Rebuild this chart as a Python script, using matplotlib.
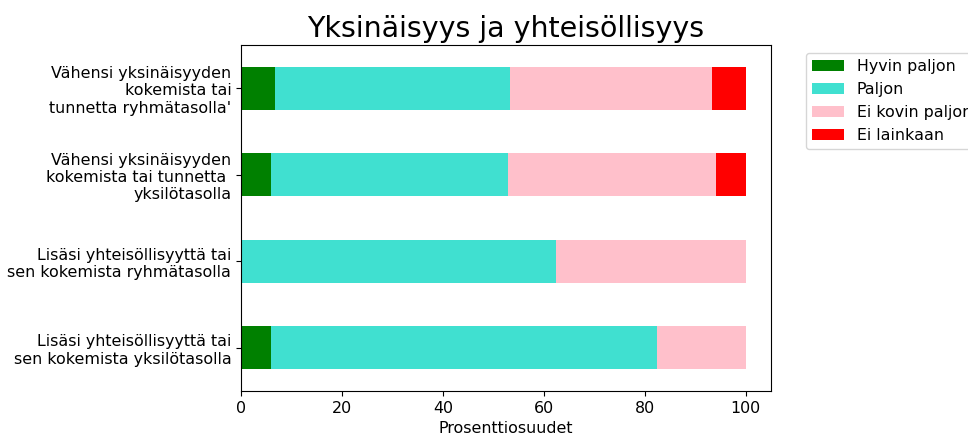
import matplotlib
matplotlib.use("Agg")
import matplotlib.pyplot as plt
import numpy as np

categories = [
    "Lisäsi yhteisöllisyyttä tai\nsen kokemista yksilötasolla",
    "Lisäsi yhteisöllisyyttä tai\nsen kokemista ryhmätasolla",
    "Vähensi yksinäisyyden\nkokemista tai tunnetta \nyksilötasolla",
    "Vähensi yksinäisyyden\nkokemista tai\ntunnetta ryhmätasolla'",
]
series_names = ["Hyvin paljon", "Paljon", "Ei kovin paljon", "Ei lainkaan"]
hyvin_paljon = [5.88, 0.0, 5.88, 6.67]
paljon = [76.47, 62.5, 47.06, 46.67]
ei_kovin_paljon = [17.65, 37.5, 41.18, 40.0]
ei_lainkaan = [0.0, 0.0, 5.88, 6.67]
colors = ["green", "turquoise", "pink", "red"]

fs = 11.4
fig = plt.figure(figsize=(9.68, 4.38), dpi=100)
ax = fig.add_axes([241/968, 1 - 391/438, (771-241)/968, (391-45)/438])

y = np.arange(len(categories))
left = np.zeros(len(categories))
for name, vals, c in zip(series_names, [hyvin_paljon, paljon, ei_kovin_paljon, ei_lainkaan], colors):
    vals = np.array(vals)
    ax.barh(y, vals, left=left, height=0.5, color=c, label=name)
    left += vals

ax.set_yticks(y)
ax.set_yticklabels(categories, fontsize=fs)
ax.set_xlim(0, 105)
ax.set_ylim(-0.5, 3.5)
ax.set_xticks([0, 20, 40, 60, 80, 100])
ax.tick_params(axis="x", labelsize=fs)
ax.set_xlabel("Prosenttiosuudet", fontsize=fs)
ax.set_title("Yksinäisyys ja yhteisöllisyys", fontsize=20.5)
ax.legend(loc="upper left", bbox_to_anchor=(798/968, 1 - 45/438),
          bbox_transform=fig.transFigure, fontsize=fs)

fig.savefig("out.png", dpi=100)
